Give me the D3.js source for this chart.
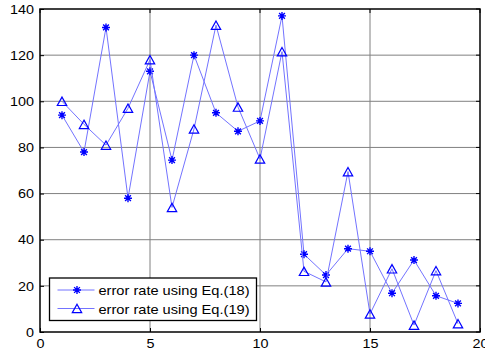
<!DOCTYPE html>
<html>
<head>
<meta charset="utf-8">
<script src="https://cdn.jsdelivr.net/npm/d3@7"></script>
<style>
  body { margin: 0; background: #fff; }
  text { font-family: "Liberation Sans", Arial, sans-serif; }
</style>
</head>
<body>
<svg id="chart" width="485" height="356"></svg>
<script>
// Data

const xValues = [1, 2, 3, 4, 5, 6, 7, 8, 9, 10, 11, 12, 13, 14, 15, 16, 17, 18, 19];
const eq18 = [94, 78, 132, 58, 113, 74.5, 120, 95, 87, 91.5, 137, 33.7, 24.7, 36.1, 35, 16.8, 31.2, 15.7, 12.4];
const eq19 = [100, 90, 81, 97, 118, 54, 88, 133, 97.5, 75, 121.5, 26.3, 21.7, 69.5, 7.8, 27.4, 3, 26.6, 3.6];
const seriesNames = ["error rate using Eq.(18)", "error rate using Eq.(19)"];
const xTicks = [0, 5, 10, 15, 20];
const yTicks = [0, 20, 40, 60, 80, 100, 120, 140];

// Frame

const margin = { top: 9, right: 5, bottom: 24, left: 40 };
const width = 485;
const height = 356;

const svg = d3.select("#chart");

const x = d3.scaleLinear().domain([0, 20]).range([margin.left, width - margin.right]);
const y = d3.scaleLinear().domain([0, 140]).range([height - margin.bottom, margin.top]);

const lineColor = "#7373ff";
const markColor = "#0000ff";

// Grid

svg.append("g").selectAll("line.gx")
  .data(xTicks.slice(1, -1))
  .enter().append("line")
  .attr("x1", d => x(d)).attr("x2", d => x(d))
  .attr("y1", y(0)).attr("y2", y(140))
  .attr("stroke", "#808080").attr("stroke-width", 1);

svg.append("g").selectAll("line.gy")
  .data(yTicks.slice(1, -1))
  .enter().append("line")
  .attr("x1", x(0)).attr("x2", x(20))
  .attr("y1", d => y(d)).attr("y2", d => y(d))
  .attr("stroke", "#808080").attr("stroke-width", 1);

// Axes (ticks inward, MATLAB style)

const xAxis = d3.axisBottom(x).tickValues(xTicks).tickSize(-4).tickPadding(7);
const yAxis = d3.axisLeft(y).tickValues(yTicks).tickSize(-4).tickPadding(6);

const gx = svg.append("g").attr("transform", "translate(0," + y(0) + ")").call(xAxis);
const gy = svg.append("g").attr("transform", "translate(" + x(0) + ",0)").call(yAxis);

[gx, gy].forEach(g => {
  g.select(".domain").remove();
  g.selectAll("line").attr("stroke", "#000");
  g.selectAll("text")
    .attr("font-size", 13)
    .attr("fill", "#000")
    .attr("font-family", "Liberation Sans, Arial, sans-serif")
    .attr("textLength", function() { return this.textContent.length * 8; })
    .attr("lengthAdjust", "spacingAndGlyphs");
});

// Top and right ticks
svg.append("g").selectAll("line")
  .data(xTicks)
  .enter().append("line")
  .attr("x1", d => x(d)).attr("x2", d => x(d))
  .attr("y1", y(140)).attr("y2", y(140) + 4)
  .attr("stroke", "#000");
svg.append("g").selectAll("line")
  .data(yTicks)
  .enter().append("line")
  .attr("x1", x(20)).attr("x2", x(20) - 4)
  .attr("y1", d => y(d)).attr("y2", d => y(d))
  .attr("stroke", "#000");

// Box
svg.append("rect")
  .attr("x", x(0)).attr("y", y(140))
  .attr("width", x(20) - x(0)).attr("height", y(0) - y(140))
  .attr("fill", "none").attr("stroke", "#000").attr("stroke-width", 1.5);

// Markers

function drawStar(g, cx, cy) {
  const r = 4;
  const d = r * 0.72;
  const path = "M" + (cx - r) + "," + cy + "L" + (cx + r) + "," + cy +
    "M" + cx + "," + (cy - r) + "L" + cx + "," + (cy + r) +
    "M" + (cx - d) + "," + (cy - d) + "L" + (cx + d) + "," + (cy + d) +
    "M" + (cx - d) + "," + (cy + d) + "L" + (cx + d) + "," + (cy - d);
  g.append("path").attr("d", path).attr("stroke", markColor).attr("stroke-width", 1.4).attr("fill", "none");
}

function drawTriangle(g, cx, cy) {
  const w = 4.7, h = 4.2;
  const path = "M" + cx + "," + (cy - h) + "L" + (cx + w) + "," + (cy + h) + "L" + (cx - w) + "," + (cy + h) + "Z";
  g.append("path").attr("d", path).attr("stroke", markColor).attr("stroke-width", 1.2).attr("fill", "none");
}

const line = d3.line().x(d => x(d[0])).y(d => y(d[1]));

const series = [
  { name: seriesNames[0], values: eq18, marker: drawStar },
  { name: seriesNames[1], values: eq19, marker: drawTriangle }
];

series.forEach(s => {
  const pts = xValues.map((v, i) => [v, s.values[i]]);
  svg.append("path")
    .datum(pts)
    .attr("d", line)
    .attr("fill", "none")
    .attr("stroke", lineColor)
    .attr("stroke-width", 1);
  const g = svg.append("g");
  pts.forEach(p => s.marker(g, x(p[0]), y(p[1])));
});

// Legend

const legend = svg.append("g");
legend.append("rect")
  .attr("x", 49.5).attr("y", 278)
  .attr("width", 207).attr("height", 42.5)
  .attr("fill", "#fff").attr("stroke", "#000").attr("stroke-width", 1.3);

series.forEach((s, i) => {
  const ly = 290 + i * 18.5;
  legend.append("line")
    .attr("x1", 57.5).attr("x2", 94.5)
    .attr("y1", ly).attr("y2", ly)
    .attr("stroke", lineColor).attr("stroke-width", 1);
  s.marker(legend, 77, ly);
  legend.append("text")
    .attr("x", 98.5).attr("y", ly + 5)
    .attr("font-size", 13.5)
    .attr("textLength", 151)
    .attr("lengthAdjust", "spacingAndGlyphs")
    .text(s.name);
});
</script>
</body>
</html>
